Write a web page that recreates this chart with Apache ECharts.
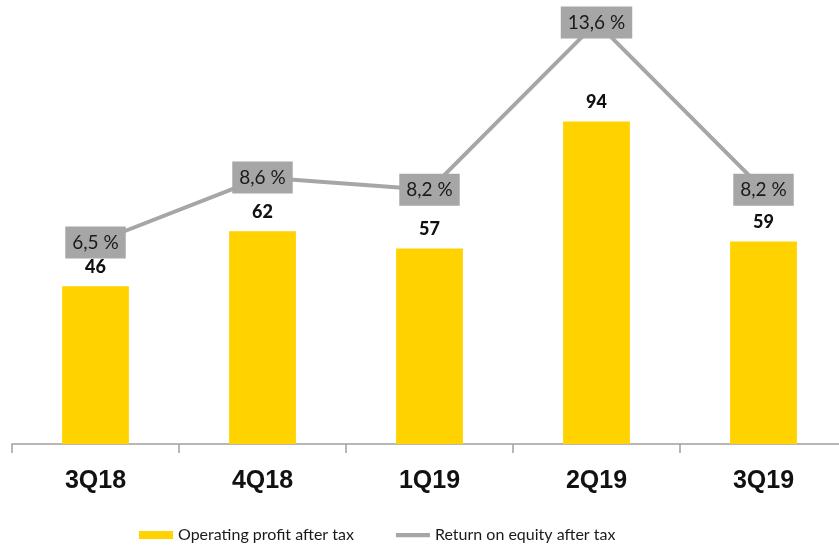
<!DOCTYPE html>
<html><head><meta charset="utf-8">
<script src="https://cdn.jsdelivr.net/npm/echarts@6/dist/echarts.min.js"></script>
<style>html,body{margin:0;padding:0;background:#fff;overflow:hidden}#c{width:848px;height:545px}</style>
</head><body><div id="c"></div>
<script>
const categories = ['3Q18', '4Q18', '1Q19', '2Q19', '3Q19'];
const profitValues = [46, 62, 57, 94, 59];
const roeValues = [6.5, 8.6, 8.2, 13.6, 8.2];
const profitName = 'Operating profit after tax';
const roeName = 'Return on equity after tax';

const chart = echarts.init(document.getElementById('c'));
chart.setOption({
  animation: false,
  backgroundColor: '#fff',
  grid: { left: 12, right: 1, top: 10, bottom: 101, containLabel: false },
  legend: {
    left: 134, top: 522, itemWidth: 34, itemHeight: 8, itemGap: 42,
    textStyle: { fontFamily: 'Lato', fontSize: 16, color: '#1a1a1a' },
    data: [
      { name: profitName, icon: 'rect' },
      { name: roeName, icon: 'path://M0,0h40v5h-40z', itemStyle: { color: '#a6a6a6' } }
    ]
  },
  xAxis: {
    type: 'category', data: categories,
    axisLine: { lineStyle: { color: '#a0a0a0', width: 1.5 } },
    axisTick: { show: true, length: 9, lineStyle: { color: '#a0a0a0', width: 1.5 } },
    axisLabel: { margin: 25, fontFamily: 'Liberation Sans', fontWeight: 'bold', fontSize: 25, color: '#111' }
  },
  yAxis: [
    { type: 'value', min: 0, max: 126.5, show: false, splitLine: { show: false } },
    { type: 'value', min: 0, max: 14, show: false, splitLine: { show: false } }
  ],
  series: [
    {
      name: profitName, type: 'bar', data: profitValues, barWidth: '40%',
      itemStyle: { color: '#FFD200' },
      label: { show: true, position: 'top', distance: 10, fontFamily: 'Lato', fontWeight: 900, fontSize: 18, color: '#111' }
    },
    {
      name: roeName, type: 'line', yAxisIndex: 1, data: roeValues,
      symbol: 'circle', symbolSize: 0, showSymbol: true,
      lineStyle: { color: '#a6a6a6', width: 4 },
      itemStyle: { color: '#a6a6a6' },
      z: 3,
      label: {
        show: true, position: 'inside', formatter: p => String(p.value).replace('.', ',') + ' %',
        backgroundColor: '#a6a6a6', padding: [7, 7, 6, 7],
        fontFamily: 'Lato', fontSize: 19, color: '#1a1a1a'
      }
    }
  ]
});
</script></body></html>
